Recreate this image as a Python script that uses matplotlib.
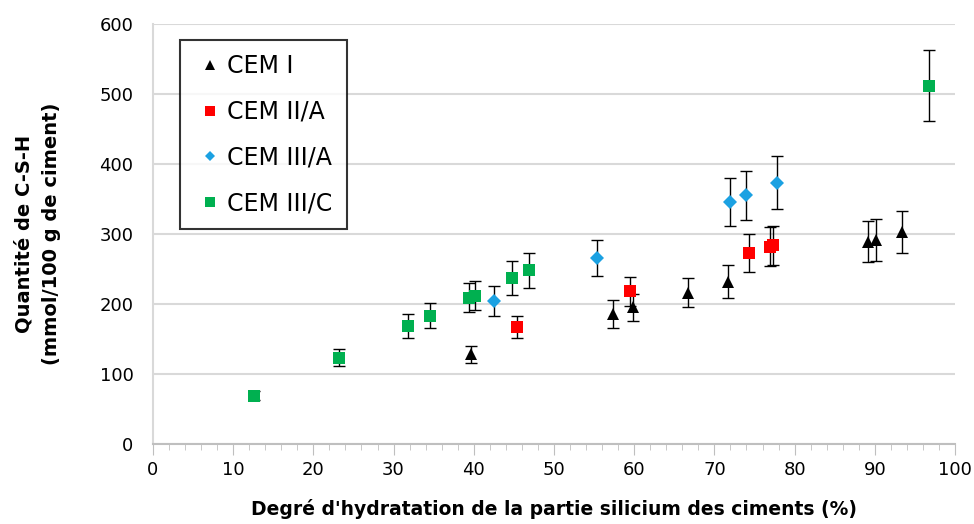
import matplotlib
matplotlib.use("Agg")
import matplotlib.pyplot as plt
from matplotlib.ticker import MultipleLocator

plt.rcParams['font.family'] = ['DejaVu Sans']

# CEM I
cem1_x = [39.7, 57.4, 59.8, 66.7, 71.7, 89.1, 90.1, 93.4]
cem1_y = [128, 186, 195, 216, 232, 289, 292, 303]
cem1_err = [12, 20, 19, 21, 23, 29, 30, 30]
# CEM II/A
cem2a_x = [45.4, 59.5, 74.3, 76.9, 77.3]
cem2a_y = [167, 218, 273, 282, 284]
cem2a_err = [16, 21, 27, 28, 28]
# CEM III/A
cem3a_x = [42.5, 55.4, 72.0, 73.9, 77.8]
cem3a_y = [204, 266, 346, 355, 373]
cem3a_err = [21, 26, 34, 35, 38]
# CEM III/C
cem3c_x = [12.6, 23.2, 31.8, 34.6, 39.4, 40.1, 44.8, 46.9, 96.8]
cem3c_y = [69, 123, 169, 183, 209, 212, 237, 248, 512]
cem3c_err = [6, 12, 17, 18, 21, 21, 24, 25, 51]

x_ticks = [0, 10, 20, 30, 40, 50, 60, 70, 80, 90, 100]
y_ticks = [0, 100, 200, 300, 400, 500, 600]

fig = plt.figure(figsize=(9.74, 5.24), dpi=100)
ax = fig.add_axes([0.157, 0.1527, 0.8235, 0.8015])

series = [
    ("CEM I", cem1_x, cem1_y, cem1_err, '^', '#000000', 9),
    ("CEM II/A", cem2a_x, cem2a_y, cem2a_err, 's', '#FF0000', 9),
    ("CEM III/A", cem3a_x, cem3a_y, cem3a_err, 'D', '#1BA1E2', 7),
    ("CEM III/C", cem3c_x, cem3c_y, cem3c_err, 's', '#00B050', 9),
]
handles = []
for name, xs, ys, es, mk, col, ms in series:
    ax.errorbar(xs, ys, yerr=es, fmt='none', ecolor='black', elinewidth=1,
                capsize=4, capthick=1, zorder=2)
    h, = ax.plot(xs, ys, linestyle='none', marker=mk, color=col, markersize=ms,
                 markeredgewidth=0, zorder=3, label=name)
    handles.append(h)

ax.set_xlim(0, 100)
ax.set_ylim(0, 600)
ax.set_xticks(x_ticks)
ax.set_yticks(y_ticks)
ax.xaxis.set_minor_locator(MultipleLocator(2))
ax.tick_params(axis='x', which='major', direction='out', length=8, color='#BFBFBF',
               labelsize=13, pad=4)
ax.tick_params(axis='x', which='minor', direction='out', length=4, color='#BFBFBF')
ax.tick_params(axis='y', which='major', length=0, labelsize=13, pad=14)
ax.grid(axis='y', color='#D9D9D9', linewidth=1.5)
ax.set_axisbelow(True)
for s in ['top', 'right']:
    ax.spines[s].set_visible(False)
ax.spines['left'].set_color('#D9D9D9')
ax.spines['left'].set_linewidth(1.5)
ax.spines['bottom'].set_color('#BFBFBF')
ax.spines['bottom'].set_linewidth(1.5)

ax.set_xlabel("Degré d'hydratation de la partie silicium des ciments (%)",
              fontsize=13.5, fontweight='bold', labelpad=15)
ax.set_ylabel("Quantité de C-S-H\n(mmol/100 g de ciment)", fontsize=14,
              fontweight='bold', labelpad=28, linespacing=1.55)

leg = ax.legend(handles=handles, loc='upper left', bbox_to_anchor=(0.034, 0.962),
                fontsize=17, frameon=True, fancybox=False, labelspacing=0.92,
                handlelength=1.3, handletextpad=0.1, borderpad=0.6,
                borderaxespad=0, markerscale=0.8)
leg.get_frame().set_edgecolor('black')
leg.get_frame().set_linewidth(1.5)

fig.savefig("out.png", dpi=100)
